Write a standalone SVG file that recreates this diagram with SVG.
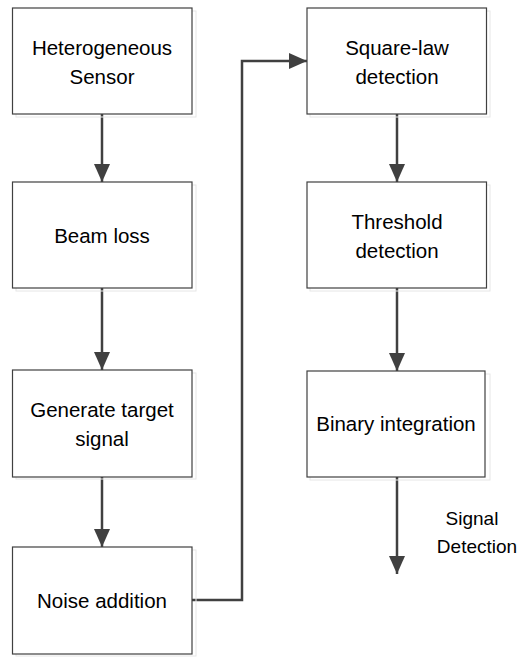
<svg xmlns="http://www.w3.org/2000/svg" width="520" height="657" viewBox="0 0 520 657">
<defs>
<marker id="ah" markerWidth="18" markerHeight="16" refX="18" refY="8" orient="auto" markerUnits="userSpaceOnUse" viewBox="0 0 18 16">
<path d="M0,0 L18,8 L0,16 Z" fill="#404040"/>
</marker>
<style>
.box{fill:#ffffff;stroke:#404040;stroke-width:1.2}
.sh{fill:none;stroke:#e6e6e6;stroke-width:1}
.t{font-family:"Liberation Sans",Arial,sans-serif;font-size:20.5px;fill:#000;text-anchor:middle}
.lb{font-family:"Liberation Sans",Arial,sans-serif;font-size:19px;fill:#000;text-anchor:middle}
.c{fill:none;stroke:#404040;stroke-width:2.5}
</style>
</defs>
<rect width="520" height="657" fill="#ffffff"/>
<g id="connectors">
<line class="c" x1="102" y1="114" x2="102" y2="182" marker-end="url(#ah)"/>
<line class="c" x1="102" y1="288" x2="102" y2="370" marker-end="url(#ah)"/>
<line class="c" x1="102" y1="477" x2="102" y2="547" marker-end="url(#ah)"/>
<polyline class="c" points="192,600 242,600 242,61 307,61" marker-end="url(#ah)"/>
<line class="c" x1="397" y1="114" x2="397" y2="182" marker-end="url(#ah)"/>
<line class="c" x1="397" y1="288" x2="397" y2="371" marker-end="url(#ah)"/>
<line class="c" x1="397" y1="477" x2="397" y2="574" marker-end="url(#ah)"/>
</g>
<g id="n1">
<rect class="sh" x="16" y="11" width="180" height="106"/>
<rect class="box" x="12.5" y="8" width="179.5" height="106"/>
<text class="t" x="102" y="55">Heterogeneous</text>
<text class="t" x="102" y="84">Sensor</text>
</g>
<g id="n2">
<rect class="sh" x="16" y="185" width="180" height="106"/>
<rect class="box" x="12.5" y="182" width="179.5" height="106"/>
<text class="t" x="102" y="243">Beam loss</text>
</g>
<g id="n3">
<rect class="sh" x="16" y="373" width="180" height="106"/>
<rect class="box" x="12.5" y="370" width="179.5" height="107"/>
<text class="t" x="102" y="417">Generate target</text>
<text class="t" x="102" y="446">signal</text>
</g>
<g id="n4">
<rect class="sh" x="16" y="550" width="180" height="106"/>
<rect class="box" x="12.5" y="547" width="179.5" height="107"/>
<text class="t" x="102" y="608">Noise addition</text>
</g>
<g id="n5">
<rect class="sh" x="310" y="11" width="180" height="106"/>
<rect class="box" x="307" y="8" width="179.5" height="106"/>
<text class="t" x="397" y="55">Square-law</text>
<text class="t" x="397" y="84">detection</text>
</g>
<g id="n6">
<rect class="sh" x="310" y="185" width="180" height="106"/>
<rect class="box" x="307" y="182" width="179.5" height="106"/>
<text class="t" x="397" y="229">Threshold</text>
<text class="t" x="397" y="258">detection</text>
</g>
<g id="n7">
<rect class="sh" x="310" y="374" width="180" height="106"/>
<rect class="box" x="307" y="371" width="178" height="106"/>
<text class="t" x="396" y="431">Binary integration</text>
</g>
<g id="label">
<text class="lb" x="472" y="525">Signal</text>
<text class="lb" x="477" y="553">Detection</text>
</g>
</svg>
